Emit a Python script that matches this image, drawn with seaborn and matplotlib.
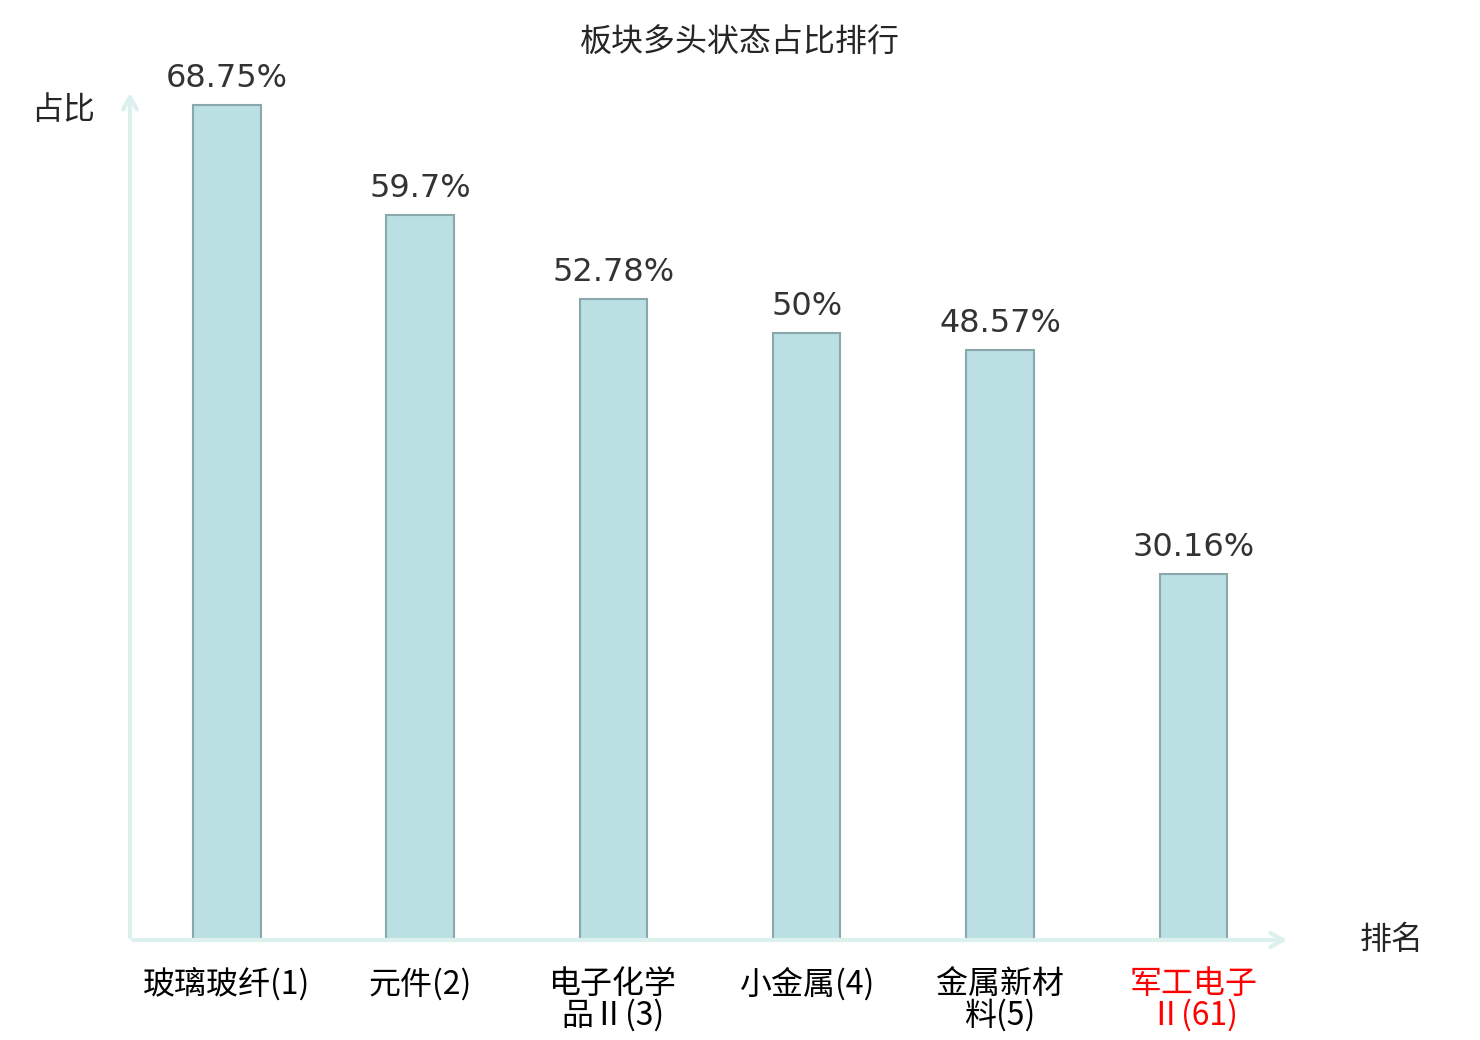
import matplotlib
matplotlib.use("Agg")
import matplotlib.pyplot as plt
import seaborn as sns
import pandas as pd

# ---- data ----
sectors = ["玻璃玻纤(1)", "元件(2)", "电子化学\n品Ⅱ(3)", "小金属(4)", "金属新材\n料(5)", "军工电子\nⅡ(61)"]
ratios = [68.75, 59.7, 52.78, 50, 48.57, 30.16]
ratio_labels = ["68.75%", "59.7%", "52.78%", "50%", "48.57%", "30.16%"]

df = pd.DataFrame({"sector": sectors, "ratio": ratios})

sns.set_style("white")
plt.rcParams["font.family"] = ["Noto Sans CJK SC", "DejaVu Sans"]

fig = plt.figure(figsize=(14.8, 10.4), dpi=100)
ax = fig.add_axes([130 / 1480, 100 / 1040, 1160 / 1480, 850 / 1040])

sns.barplot(
    data=df, x="sector", y="ratio", ax=ax,
    color="#bbe0e3", width=0.35,
    edgecolor="#8aa8aa", linewidth=1.5, saturation=1,
)

ax.set_xlim(-0.5, 5.5)
ax.set_ylim(0, 70)

# value labels on top of bars
ax.bar_label(ax.containers[0], labels=ratio_labels, padding=8,
             fontsize=23, color="#333333", family="DejaVu Sans")

# hide spines, draw arrow axes
for s in ax.spines.values():
    s.set_visible(False)
axis_col = "#dcf0ee"
ax.annotate("", xy=(1.0, 0), xytext=(0, 0), xycoords="axes fraction",
            arrowprops=dict(arrowstyle="->,head_length=0.9,head_width=0.5", color=axis_col, lw=3))
ax.annotate("", xy=(0, 1.0), xytext=(0, 0), xycoords="axes fraction",
            arrowprops=dict(arrowstyle="->,head_length=0.9,head_width=0.5", color=axis_col, lw=3))

ax.set_yticks([])
ax.set_xlabel("")
ax.set_ylabel("")
ax.tick_params(axis="x", length=0, pad=20, labelsize=23)
for i, lab in enumerate(ax.get_xticklabels()):
    lab.set_linespacing(0.95)
    lab.set_verticalalignment("top")
    lab.set_color("red" if i == len(sectors) - 1 else "black")

# axis names
fig.text(63 / 1480, 1 - 110 / 1040, "占比", fontsize=23, ha="center", va="center")
fig.text(1392 / 1480, 1 - 940 / 1040, "排名", fontsize=23, ha="center", va="center")

fig.text(740 / 1480, 1 - 43 / 1040, "板块多头状态占比排行", fontsize=23, ha="center", va="center")

fig.savefig("out.png", dpi=100)
